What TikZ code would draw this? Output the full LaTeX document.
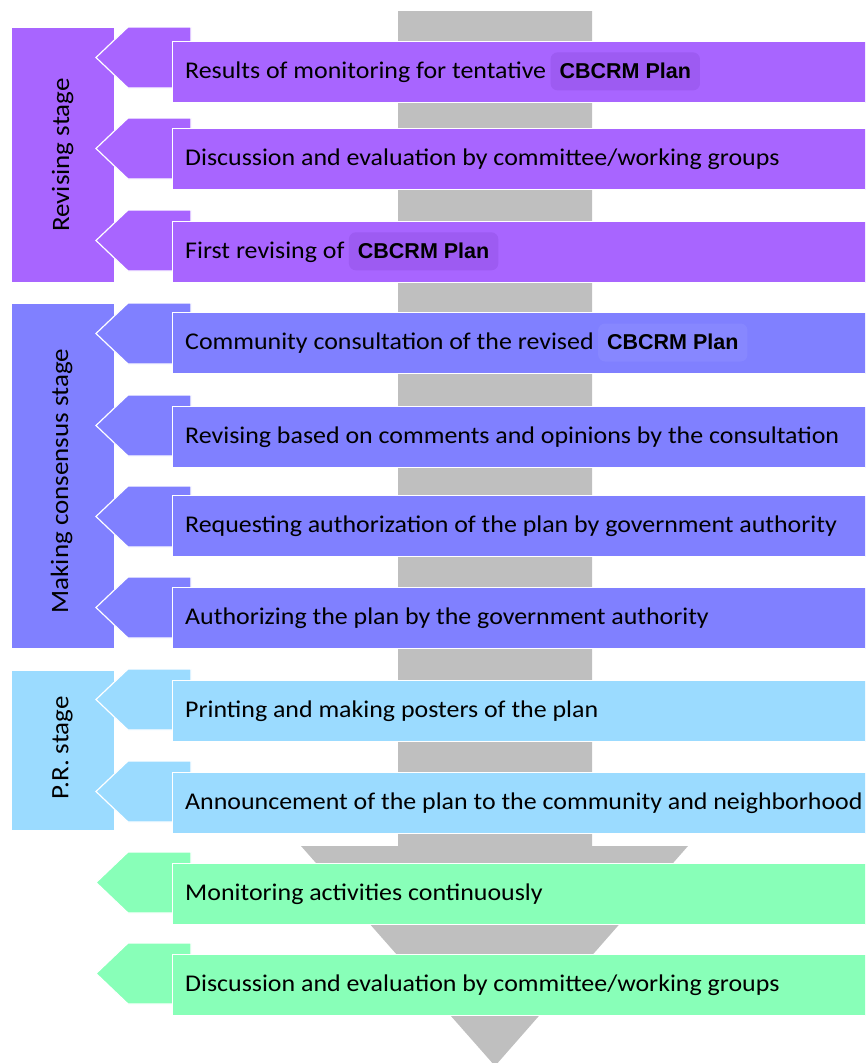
\documentclass[tikz,border=0pt]{standalone}
\usepackage{fontspec}
\setmainfont{Carlito}[FakeStretch=1.08]
\newfontfamily\cbfont{Liberation Sans}
\definecolor{purpleC}{HTML}{A865FF}
\definecolor{purpleH}{HTML}{9D5BF2}
\definecolor{blueC}{HTML}{8080FF}
\definecolor{blueH}{HTML}{8787FF}
\definecolor{lblueC}{HTML}{9BDBFF}
\definecolor{greenC}{HTML}{88FFB8}
\definecolor{grayC}{HTML}{BFBFBF}
\begin{document}
\begin{tikzpicture}[x=1pt,y=-1pt,
  rowbox/.style={draw=white, line width=1.2pt, minimum height=61pt, minimum width=720pt, anchor=north west, inner sep=0pt},
  rowtext/.style={anchor=west, inner sep=0pt, font=\fontsize{24}{27}\selectfont, text=black},
  cbbox/.style={anchor=base west, rounded corners=7pt, inner xsep=9pt, inner ysep=0pt, text height=26pt, text depth=12pt, font=\cbfont\bfseries\fontsize{21.5}{25}\selectfont, text=black},
  stagebox/.style={draw=white, line width=1.2pt, anchor=north west, inner sep=0pt, minimum width=103pt},
  stagetext/.style={rotate=90, inner sep=0pt, font=\fontsize{25}{28}\selectfont, text=black},
  tabshape/.style={draw=white, line width=1.2pt},
]
\useasboundingbox (0,0) rectangle (865,1063);
\clip (0,0) rectangle (865,1063);
% background gray arrow
\fill[grayC] (398,11) -- (592,11) -- (592,846) -- (688,846) -- (495,1066) -- (301,846) -- (398,846) -- cycle;

% stage boxes
\node[stagebox, fill=purpleC, minimum height=255pt] (s1) at (11,27) {};
\node[stagebox, fill=blueC, minimum height=345pt] (s2) at (11,303) {};
\node[stagebox, fill=lblueC, minimum height=160pt] (s3) at (11,670) {};
\node[stagetext] (l1) at ([xshift=-0.5pt]s1.center) {Revising stage};
\node[stagetext] (l2) at ([xshift=-1.5pt,yshift=-5pt]s2.center) {Making consensus stage};
\node[stagetext] (l3) at ([xshift=-0.5pt,yshift=3pt]s3.center) {P.R. stage};

% tabs
\foreach \t/\c in {27/purpleC,118/purpleC,210/purpleC,303/blueC,395/blueC,486/blueC,577/blueC,669/lblueC,761/lblueC,852/greenC,943/greenC}{
  \path[tabshape, fill=\c] (191,\t) -- (128,\t) -- (96,\t+30.5) -- (128,\t+61) -- (191,\t+61) -- cycle;
}

% rows
\node[rowbox, fill=purpleC] (r1) at (172,41) {};
\node[rowbox, fill=purpleC] (r2) at (172,128) {};
\node[rowbox, fill=purpleC] (r3) at (172,221) {};
\node[rowbox, fill=blueC] (r4) at (172,312) {};
\node[rowbox, fill=blueC] (r5) at (172,406) {};
\node[rowbox, fill=blueC] (r6) at (172,495) {};
\node[rowbox, fill=blueC] (r7) at (172,587) {};
\node[rowbox, fill=lblueC] (r8) at (172,680) {};
\node[rowbox, fill=lblueC] (r9) at (172,772) {};
\node[rowbox, fill=greenC] (r10) at (172,863) {};
\node[rowbox, fill=greenC] (r11) at (172,954) {};

\node[rowtext] (t1) at ([xshift=13pt]r1.west) {Results of monitoring for tentative};
\node[cbbox, fill=purpleH] (c1) at ([xshift=4pt]t1.base east) {CBCRM Plan};
\node[rowtext] (t2) at ([xshift=13pt]r2.west) {Discussion and evaluation by committee/working groups};
\node[rowtext] (t3) at ([xshift=13pt]r3.west) {First revising of};
\node[cbbox, fill=purpleH] (c3) at ([xshift=4pt]t3.base east) {CBCRM Plan};
\node[rowtext] (t4) at ([xshift=13pt]r4.west) {Community consultation of the revised};
\node[cbbox, fill=blueH] (c4) at ([xshift=4pt]t4.base east) {CBCRM Plan};
\node[rowtext] (t5) at ([xshift=13pt]r5.west) {Revising based on comments and opinions by the consultation};
\node[rowtext] (t6) at ([xshift=13pt]r6.west) {Requesting authorization of the plan by government authority};
\node[rowtext] (t7) at ([xshift=13pt]r7.west) {Authorizing the plan by the government authority};
\node[rowtext] (t8) at ([xshift=13pt]r8.west) {Printing and making posters of the plan};
\node[rowtext] (t9) at ([xshift=13pt]r9.west) {Announcement of the plan to the community and neighborhood};
\node[rowtext] (t10) at ([xshift=13pt]r10.west) {Monitoring activities continuously};
\node[rowtext] (t11) at ([xshift=13pt]r11.west) {Discussion and evaluation by committee/working groups};
\end{tikzpicture}
\end{document}
